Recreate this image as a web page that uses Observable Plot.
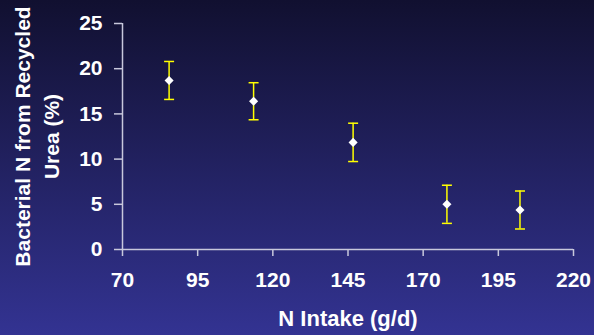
<!DOCTYPE html>
<html>
<head>
<meta charset="utf-8">
<script src="https://cdn.jsdelivr.net/npm/d3@7"></script>
<script src="https://cdn.jsdelivr.net/npm/@observablehq/plot@0.6"></script>
<style>
  html, body { margin: 0; padding: 0; background: #222266; }
  #chart svg { display: block; }
</style>
</head>
<body>
<div id="chart"></div>
<script>
// Data
const nIntake = [85.5, 113.6, 146.7, 177.9, 202.2];
const bacterialN = [18.7, 16.4, 11.85, 5.0, 4.37];
const errorSize = [2.1, 2.05, 2.12, 2.11, 2.1];
const xTicks = [70, 95, 120, 145, 170, 195, 220];
const yTicks = [0, 5, 10, 15, 20, 25];
const xLabel = "N Intake (g/d)";
const yLabel = "Bacterial N from Recycled\nUrea (%)";

const data = nIntake.map((x, i) => ({
  x, y: bacterialN[i], lo: bacterialN[i] - errorSize[i], hi: bacterialN[i] + errorSize[i]
}));

const axisColor = "#c8c8dc";
const errColor = "#ffff00";
const font = "'Liberation Sans', Arial, sans-serif";

// horizontal cap symbol for error bars
const capSymbol = {
  draw(context, size) {
    const w = Math.sqrt(size / Math.PI);
    context.moveTo(-w, 0);
    context.lineTo(w, 0);
  }
};

const chart = Plot.plot({
  width: 594,
  height: 335,
  marginLeft: 122,
  marginRight: 21,
  marginTop: 23,
  marginBottom: 86,
  x: {domain: [70, 220]},
  y: {domain: [0, 25]},
  style: {
    background: "linear-gradient(to bottom, #111030 0%, #333392 100%)",
    color: "white",
    fontFamily: font,
    fontWeight: "bold"
  },
  marks: [
    Plot.axisX({ticks: xTicks, tickSize: 7, tickPadding: 16, fontSize: 21, label: null,
      stroke: axisColor, strokeWidth: 1.5, fill: "white", fontWeight: "bold"}),
    Plot.axisY({ticks: yTicks, tickSize: 8, tickPadding: 12, fontSize: 21, label: null,
      stroke: axisColor, strokeWidth: 1.5, fill: "white", fontWeight: "bold"}),
    Plot.ruleY([0], {stroke: axisColor, strokeWidth: 1.5}),
    Plot.ruleX([70], {stroke: axisColor, strokeWidth: 1.5}),
    Plot.ruleX(data, {x: "x", y1: "lo", y2: "hi", stroke: errColor, strokeWidth: 1.5}),
    Plot.dot(data, {x: "x", y: "lo", symbol: capSymbol, r: 5, stroke: errColor, strokeWidth: 1.5, fill: "none"}),
    Plot.dot(data, {x: "x", y: "hi", symbol: capSymbol, r: 5, stroke: errColor, strokeWidth: 1.5, fill: "none"}),
    Plot.dot(data, {x: "x", y: "y", symbol: "diamond2", r: 4.1, fill: "white", stroke: "none"}),
    Plot.text([xLabel], {frameAnchor: "bottom", lineAnchor: "middle", dy: 69, fontSize: 22,
      fill: "white", fontWeight: "bold"}),
    Plot.text([yLabel], {frameAnchor: "left", rotate: -90, textAnchor: "middle", lineAnchor: "middle",
      dx: -87, fontSize: 21, lineHeight: 1.38, fill: "white", fontWeight: "bold"})
  ]
});
document.getElementById("chart").appendChild(chart);
</script>
</body>
</html>
